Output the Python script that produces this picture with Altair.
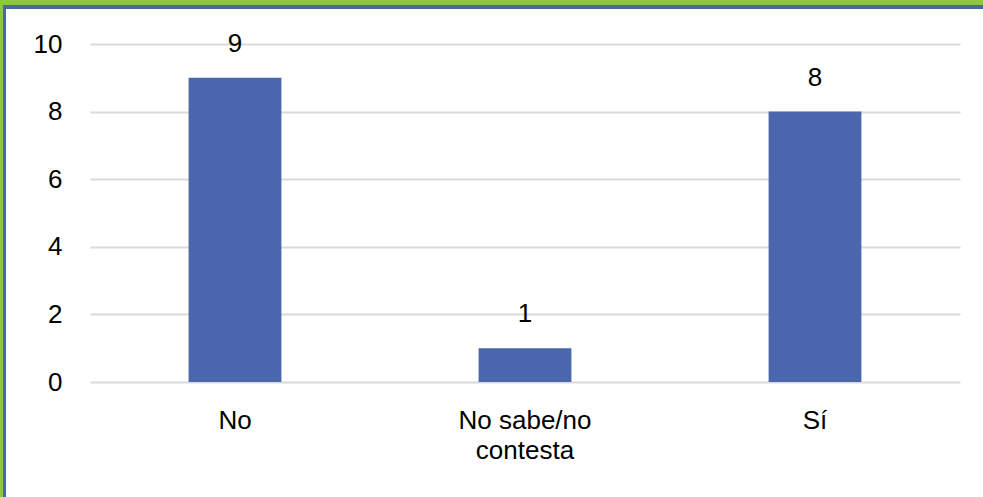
import altair as alt
import pandas as pd

categories = ["No", "No sabe/no contesta", "Sí"]
counts = [9, 1, 8]
y_ticks = [0, 2, 4, 6, 8, 10]

df = pd.DataFrame({"cat": categories, "n": counts})

BAR = "#4A66AC"
GREEN = "#8DC63F"
FONT = "Liberation Sans"
FS = 26

x_enc = alt.X(
    "cat:N",
    sort=None,
    title=None,
    scale=alt.Scale(paddingInner=0.68, paddingOuter=0.34),
    axis=alt.Axis(
        labelAngle=0,
        labelFontSize=FS,
        labelFont=FONT,
        labelColor="#000000",
        labelPadding=25,
        labelLineHeight=30,
        labelExpr="datum.value == 'No sabe/no contesta' ? ['No sabe/no', 'contesta'] : datum.value",
        ticks=False,
        domain=False,
        grid=False,
    ),
)
y_enc = alt.Y(
    "n:Q",
    title=None,
    scale=alt.Scale(domain=[0, 10], nice=False),
    axis=alt.Axis(
        values=y_ticks,
        labelFontSize=FS,
        labelFont=FONT,
        labelColor="#000000",
        labelPadding=28,
        ticks=False,
        domain=False,
        grid=True,
        gridColor="#D9D9D9",
        gridWidth=2,
    ),
)

bars = alt.Chart(df).mark_bar(color=BAR).encode(x=x_enc, y=y_enc)
labels = alt.Chart(df).mark_text(
    dy=-34, fontSize=FS, font=FONT, color="#000000", baseline="middle"
).encode(x=alt.X("cat:N", sort=None), y="n:Q", text="n:Q")

one = alt.Data(values=[{}])
green_v = alt.Chart(one).mark_rule(color=GREEN, strokeWidth=3).encode(
    x=alt.value(-88.5), y=alt.value(-44), y2=alt.value(453))
green_h = alt.Chart(one).mark_rule(color=GREEN, strokeWidth=5).encode(
    y=alt.value(-41.5), x=alt.value(-90), x2=alt.value(893))
blue_v = alt.Chart(one).mark_rule(color=BAR, strokeWidth=3).encode(
    x=alt.value(-85.5), y=alt.value(-39), y2=alt.value(453))
blue_h = alt.Chart(one).mark_rule(color=BAR, strokeWidth=4).encode(
    y=alt.value(-37), x=alt.value(-87), x2=alt.value(893))

chart = alt.layer(bars, labels, green_v, green_h, blue_v, blue_h).properties(
    width=870,
    height=338,
    autosize=alt.AutoSizeParams(type="none"),
    padding={"left": 90, "top": 44, "right": 23, "bottom": 115},
    background="white",
).configure_view(stroke=None)

chart.save("out.html", embed_options={"renderer": "svg", "actions": False})
